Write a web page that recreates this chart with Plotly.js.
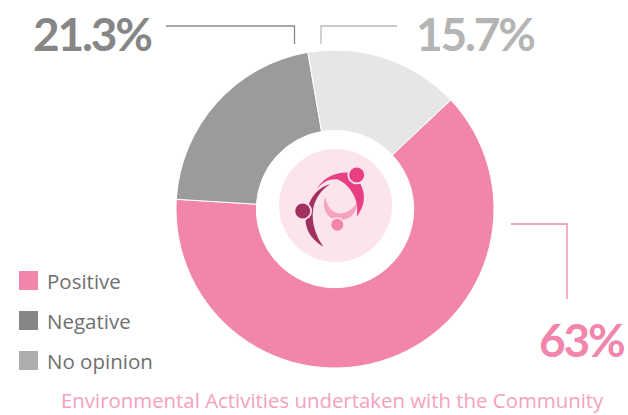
<!DOCTYPE html>
<html><head><meta charset="utf-8">
<script src="https://cdn.plot.ly/plotly-3.0.1.min.js"></script>
<style>html,body{margin:0;padding:0;background:#fff}#c{width:628px;height:415px}
.annotation-text[style*="46px"]{letter-spacing:-2.2px}</style>
</head><body><div id="c"></div>
<script>
const categories = ['Positive','Negative','No opinion'];
const values = [63,21.3,15.7];
const valueLabels = ['63%','21.3%','15.7%'];
const sliceColors = ['#F285AB','#9B9B9A','#E6E6E6'];
const legendColors = ['#F285AB','#868686','#AEAEAE'];
const labelColors = ['#F285AB','#868686','#B4B4B4'];
const titleText = 'Environmental Activities undertaken with the Community';
const FONT = '"Open Sans", "Noto Sans", sans-serif';
const BIG = 'Lato, "Open Sans", sans-serif';
const W = 628, H = 415, CX = 335, CY = 209, R = 159;

const shapes = [];
const annotations = [];
function rect(x0,y0,x1,y1,c){shapes.push({type:'rect',xref:'x',yref:'y',x0,y0,x1,y1,fillcolor:c,line:{width:0},layer:'above'});}
function circ(x,y,r,c){shapes.push({type:'circle',xref:'x',yref:'y',x0:x-r,x1:x+r,y0:y-r,y1:y+r,fillcolor:c,line:{width:0},layer:'above'});}
function path(d,c){shapes.push({type:'path',xref:'x',yref:'y',path:d,fillcolor:c,line:{width:0},layer:'above'});}
function line(d,c){shapes.push({type:'path',xref:'x',yref:'y',path:d,line:{color:c,width:1.3},layer:'above'});}
function text(t,x,y,size,color,anchor,family,weight){annotations.push({xref:'x',yref:'y',x,y,text:t,showarrow:false,xanchor:anchor,yanchor:'middle',font:{size,color,family:family||FONT,weight:weight||400}});}

categories.forEach((c,i)=>{
  const y = 271 + i*40;
  rect(19,y,38,y+19,legendColors[i]);
  text(c,45,y+9.5,20.5,'#6f6f6f','left');
});
line('M166 26 L294.5 26 L294.5 44','#8a8a8a');
line('M321 44 L321 26 L397 26','#b9b9b9');
line('M511 224 L567 224 L567 299','#F285AB');
text(valueLabels[1],92,33,46,labelColors[1],'center',BIG,700);
text(valueLabels[2],474.5,33,46,labelColors[2],'center',BIG,700);
text(valueLabels[0],581,339,46,labelColors[0],'center',BIG,700);
text(titleText,332.5,400,20.4,'#F6A0BE','center');
circ(335.5,205.5,56.5,'#FCE4ED');
path('M325.5 196.7 C321 208 327 220 340 220 C352 220 358 210 356.7 201.7 C354 209 347 213 340 213.5 C332 213 326.5 206 325.5 196.7 Z','#F5A3C0');
path('M316.7 189.3 C322 179 334 171.5 350 172.5 C358 177 373 196 356.7 216.7 C360 200 350 185 338 179.5 C330 178 322 182 316.7 189.3 Z','#E83E82');
path('M330 184.3 C315 188 307 203 305.5 218 C305 232 314 241 323.3 246.7 C316 236 311.5 224 313 210 C314.5 199 322 189 330 184.3 Z','#A23060');
circ(356.7,175,9.3,'#FCE4ED'); circ(356.7,175,7.5,'#E83E82');
circ(302.7,211,9.3,'#FCE4ED'); circ(302.7,211,7.5,'#A23060');
circ(337.3,224.7,7.5,'#FCE4ED'); circ(337.3,224.7,6,'#F285AB');

Plotly.newPlot('c',[
 {type:'scatter',x:[0,W],y:[0,H],mode:'none',hoverinfo:'skip',showlegend:false},
 {type:'pie',labels:categories,values:values,hole:0.495,sort:false,direction:'clockwise',rotation:46.7,
  marker:{colors:sliceColors,line:{color:'#fff',width:1}},textinfo:'none',hoverinfo:'none',showlegend:false,
  domain:{x:[(CX-R)/W,(CX+R)/W],y:[1-(CY+R)/H,1-(CY-R)/H]}}
],{
  width:W,height:H,margin:{l:0,r:0,t:0,b:0,pad:0},paper_bgcolor:'#fff',plot_bgcolor:'rgba(0,0,0,0)',showlegend:false,
  xaxis:{range:[0,W],visible:false,fixedrange:true},
  yaxis:{range:[H,0],visible:false,fixedrange:true},
  shapes,annotations
},{displayModeBar:false,staticPlot:true});
</script></body></html>
